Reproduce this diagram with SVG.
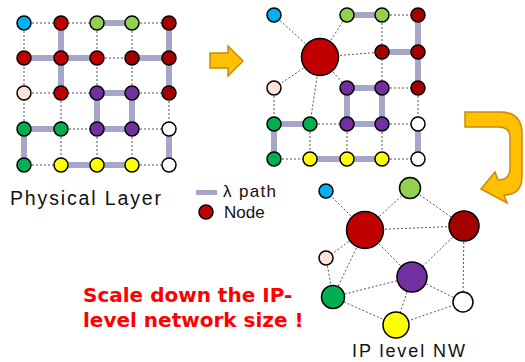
<svg xmlns="http://www.w3.org/2000/svg" width="525" height="362" viewBox="0 0 525 362">
  <style>
    .lam { stroke: #A6A6C8; stroke-width: 6; fill: none; stroke-linecap: butt; }
    .dash { stroke: #555; stroke-width: 1; stroke-dasharray: 2 2; fill: none; }
    .n { stroke: #000; stroke-width: 1.5; }
    .blue { fill: #00B0F0; }
    .lgreen { fill: #92D050; }
    .red { fill: #C00000; }
    .dred { fill: #A50000; }
    .peach { fill: #FCE4D6; }
    .purple { fill: #7030A0; }
    .green { fill: #00B050; }
    .yellow { fill: #FFFF00; }
    .white { fill: #FFFFFF; }
    .lbl { font-family: "Liberation Sans", Arial, sans-serif; fill: #111; }
    .red-note { font-family: "DejaVu Sans", Verdana, sans-serif; font-weight: bold; font-size: 20px; fill: #FF0000; }
    .arrow { fill: #FFC000; stroke: #C98A0A; stroke-width: 1.5; stroke-linejoin: miter; }
  </style>

  <!-- Physical layer: connectors -->
  <g id="phys-connectors">
    <!-- lambda paths -->
    <path class="lam" d="M61,23 V93 M97,23 H132 M169,23 V93 M24,58 H97 M132,58 H169 M97,93 H132 V129 H97 Z M24,129 H61 M24,129 V165 M169,129 V165 M61,165 H132"/>
    <!-- fibre links without a lambda path -->
    <path class="dash" d="M24,23 H97 M132,23 H169 M97,58 H132 M24,93 H97 M132,93 H169 M61,129 H97 M132,129 H169 M24,165 H61 M132,165 H169
      M24,23 V129 M61,93 V165 M97,23 V93 M97,129 V165 M132,23 V93 M132,129 V165 M169,93 V129"/>
  </g>

  <!-- Physical layer: nodes -->
  <g id="phys-nodes">
    <circle class="n blue" cx="24" cy="23" r="7"/>
    <circle class="n red" cx="61" cy="23" r="7"/>
    <circle class="n lgreen" cx="97" cy="23" r="7"/>
    <circle class="n lgreen" cx="132" cy="23" r="7"/>
    <circle class="n dred" cx="169" cy="23" r="7"/>

    <circle class="n red" cx="24" cy="58" r="7"/>
    <circle class="n red" cx="61" cy="58" r="7"/>
    <circle class="n red" cx="97" cy="58" r="7"/>
    <circle class="n dred" cx="132" cy="58" r="7"/>
    <circle class="n dred" cx="169" cy="58" r="7"/>

    <circle class="n peach" cx="24" cy="93" r="7"/>
    <circle class="n red" cx="61" cy="93" r="7"/>
    <circle class="n purple" cx="97" cy="93" r="7"/>
    <circle class="n purple" cx="132" cy="93" r="7"/>
    <circle class="n dred" cx="169" cy="93" r="7"/>

    <circle class="n green" cx="24" cy="129" r="7"/>
    <circle class="n green" cx="61" cy="129" r="7"/>
    <circle class="n purple" cx="97" cy="129" r="7"/>
    <circle class="n purple" cx="132" cy="129" r="7"/>
    <circle class="n white" cx="169" cy="129" r="7"/>

    <circle class="n green" cx="24" cy="165" r="7"/>
    <circle class="n yellow" cx="61" cy="165" r="7"/>
    <circle class="n yellow" cx="97" cy="165" r="7"/>
    <circle class="n yellow" cx="132" cy="165" r="7"/>
    <circle class="n white" cx="169" cy="165" r="7"/>
  </g>

  <text id="phys-label" class="lbl" x="10" y="205" font-size="19.5" textLength="151" lengthAdjust="spacing">Physical Layer</text>

  <!-- Legend -->
  <g id="legend">
    <rect x="196" y="190" width="21" height="5" fill="#A6A6C8"/>
    <text class="lbl" x="223" y="197" font-size="17" textLength="53" lengthAdjust="spacing">λ path</text>
    <circle class="n red" cx="206" cy="212" r="7"/>
    <text class="lbl" x="224" y="218" font-size="17">Node</text>
  </g>

  <!-- Step arrow: physical layer to merged layer -->
  <path id="arrow-right" class="arrow" d="M210,53 H228 V46 L243,61 L228,76 V68 H210 Z"/>

  <!-- Merged layer: connectors -->
  <g id="merged-connectors">
    <path class="lam" d="M347,15 H382 M418,15 V88 M382,52 H418 M347,88 H382 V124 H347 Z M274,124 H310 M274,124 V159 M418,124 V159 M310,159 H382"/>
    <path class="dash" d="M320,57 L274,15 M320,57 L347,15 M320,57 L382,52 M320,57 L274,88 M320,57 L310,124 M320,57 L347,88
      M382,15 H418 M382,15 V88 M382,88 H418 M418,88 V124 M274,88 V124 M310,124 H347 M382,124 H418 M274,159 H310 M382,159 H418
      M310,124 V159 M347,124 V159 M382,124 V159"/>
  </g>

  <!-- Merged layer: nodes -->
  <g id="merged-nodes">
    <circle class="n red" cx="320" cy="57" r="18.5"/>
    <circle class="n blue" cx="274" cy="15" r="7"/>
    <circle class="n lgreen" cx="347" cy="15" r="7"/>
    <circle class="n lgreen" cx="382" cy="15" r="7"/>
    <circle class="n dred" cx="418" cy="15" r="7"/>

    <circle class="n dred" cx="382" cy="52" r="7"/>
    <circle class="n dred" cx="418" cy="52" r="7"/>

    <circle class="n peach" cx="274" cy="88" r="7"/>
    <circle class="n purple" cx="347" cy="88" r="7"/>
    <circle class="n purple" cx="382" cy="88" r="7"/>
    <circle class="n dred" cx="418" cy="88" r="7"/>

    <circle class="n green" cx="274" cy="124" r="7"/>
    <circle class="n green" cx="310" cy="124" r="7"/>
    <circle class="n purple" cx="347" cy="124" r="7"/>
    <circle class="n purple" cx="382" cy="124" r="7"/>
    <circle class="n white" cx="418" cy="124" r="7"/>

    <circle class="n green" cx="274" cy="159" r="7"/>
    <circle class="n yellow" cx="310" cy="159" r="7"/>
    <circle class="n yellow" cx="347" cy="159" r="7"/>
    <circle class="n yellow" cx="382" cy="159" r="7"/>
    <circle class="n white" cx="418" cy="159" r="7"/>
  </g>

  <!-- Step arrow: merged layer down to IP level -->
  <path id="arrow-uturn" class="arrow" d="M465,112 H500 Q522,112 522,134 V176 Q522,195 504,195 L507,203 L481,189 L495,172 L498,180 Q510,180 510,168 V138 Q510,127 499,127 H465 Z"/>

  <!-- IP level network: connectors -->
  <g id="ip-connectors">
    <path class="dash" d="M365,230 L326,191 M365,230 L410,188 M410,188 L464,226 M365,230 L464,226 M365,230 L326,258 M365,230 L333,297 M365,230 L412,277
      M464,226 L412,277 M464,226 L463,302 M326,258 L333,297 M333,297 L412,277 M333,297 L396,325 M412,277 L396,325 M412,277 L463,302 M396,325 L463,302"/>
  </g>

  <!-- IP level network: nodes -->
  <g id="ip-nodes">
    <circle class="n blue" cx="326" cy="191" r="7"/>
    <circle class="n lgreen" cx="410" cy="188" r="10.5"/>
    <circle class="n red" cx="365" cy="230" r="18.5"/>
    <circle class="n dred" cx="464" cy="226" r="15"/>
    <circle class="n peach" cx="326" cy="258" r="7"/>
    <circle class="n purple" cx="412" cy="277" r="15"/>
    <circle class="n green" cx="333" cy="297" r="11.5"/>
    <circle class="n white" cx="463" cy="302" r="10"/>
    <circle class="n yellow" cx="396" cy="325" r="13"/>
  </g>

  <text id="ip-label" class="lbl" x="352" y="357" font-size="18" textLength="113" lengthAdjust="spacing">IP level NW</text>

  <text id="note" class="red-note">
    <tspan x="83" y="302">Scale down the IP-</tspan>
    <tspan x="83" y="327">level network size !</tspan>
  </text>
</svg>
